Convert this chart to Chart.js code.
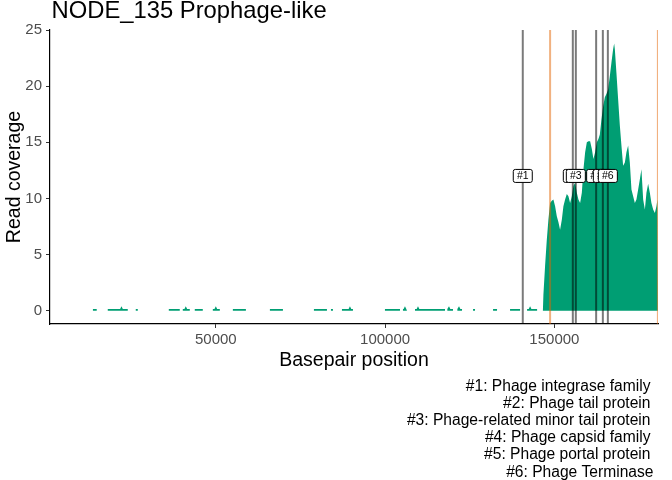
<!DOCTYPE html>
<html>
<head>
<meta charset="utf-8">
<script src="https://cdn.jsdelivr.net/npm/chart.js@4.4.1/dist/chart.umd.min.js"></script>
<style>
  html, body { margin: 0; padding: 0; background: #ffffff; }
  #c { display: block; }
</style>
</head>
<body>
<canvas id="c" width="672" height="480"></canvas>
<script>
// ---------------- DATA ----------------
const chartTitle = "NODE_135 Prophage-like";
const xTitle = "Basepair position";
const yTitle = "Read coverage";

// Read coverage along the contig (basepair position, coverage)
const position = [
  13639, 13640, 14820, 14821,
  18079, 18080, 21730, 22130, 22530, 23990, 23991,
  26349, 26350, 26950, 26951,
  36109, 36110, 39350, 39351,
  40239, 40240, 40730, 41130, 41530, 42310, 42311,
  43779, 43780, 46150, 46151,
  49109, 49110, 49600, 50000, 50400, 51180, 51181,
  55029, 55030, 58880, 58881,
  65969, 65970, 69820, 69821,
  78969, 78970, 82820, 82821,
  83999, 84000, 84590, 84591,
  87249, 87250, 89210, 89610, 90010, 90500, 90501,
  99949, 99950, 104390, 104391,
  105269, 105270, 105460, 105860, 106260, 106460, 106461,
  108819, 108820, 109310, 109710, 110110, 117690, 117691,
  118279, 118280, 118470, 118870, 119270, 120050, 120051,
  121239, 121240, 121430, 121830, 122230, 122720, 122721,
  125969, 125970, 126560, 126561,
  131879, 131880, 133060, 133061,
  136899, 136900, 139860, 139861,
  141929, 141930, 142420, 142820, 143220, 144890, 144891,
  146600, 146750, 147250, 147750, 148230, 148730, 149230, 149700, 150210, 150710,
  151180, 151680, 152190, 152660, 153160, 153670, 154140, 154640, 155140, 155620,
  156120, 156620, 157100, 157600, 158100, 158580, 159080, 159580, 160050, 160550,
  161060, 161530, 162030, 162530, 163000, 163420, 163890, 164400, 164900, 165370,
  165870, 166370, 166850, 167350, 167650, 167850, 168320, 168830, 169330, 169800,
  170300, 170810, 171280, 171780, 172280, 172760, 173260, 173760, 174230, 174740,
  175240, 175710, 176220, 176720, 177190, 177690, 178190, 178660, 179170, 179670,
  180140, 180440, 180570
];
const coverage = [
  0, 0.15, 0.15, 0,
  0, 0.15, 0.15, 0.4, 0.15, 0.15, 0,
  0, 0.15, 0.15, 0,
  0, 0.15, 0.15, 0,
  0, 0.15, 0.15, 0.4, 0.15, 0.15, 0,
  0, 0.15, 0.15, 0,
  0, 0.15, 0.15, 0.4, 0.15, 0.15, 0,
  0, 0.15, 0.15, 0,
  0, 0.15, 0.15, 0,
  0, 0.15, 0.15, 0,
  0, 0.15, 0.15, 0,
  0, 0.15, 0.15, 0.4, 0.15, 0.15, 0,
  0, 0.15, 0.15, 0,
  0, 0.15, 0.15, 0.4, 0.15, 0.15, 0,
  0, 0.15, 0.15, 0.4, 0.15, 0.15, 0,
  0, 0.15, 0.15, 0.4, 0.15, 0.15, 0,
  0, 0.15, 0.15, 0.4, 0.15, 0.15, 0,
  0, 0.15, 0.15, 0,
  0, 0.15, 0.15, 0,
  0, 0.15, 0.15, 0,
  0, 0.15, 0.15, 0.4, 0.15, 0.15, 0,
  0, 1.4, 4.0, 6.3, 8.1, 9.6, 9.8, 9.9, 9.3, 8.4,
  7.9, 7.2, 8.1, 9.3, 9.9, 10.4, 10.2, 9.6, 10.2, 11.1,
  11.4, 10.5, 9.9, 9.6, 10.5, 12.6, 14.1, 15.0, 15.1, 15.1,
  14.4, 13.5, 14.1, 15.0, 15.3, 15.7, 17.0, 18.2, 19.0, 19.3,
  19.7, 20.9, 22.1, 23.3, 23.8, 23.3, 21.2, 18.8, 16.5, 14.7,
  12.9, 13.2, 14.1, 14.7, 13.2, 10.8, 10.2, 9.6, 9.9, 10.8,
  11.7, 12.6, 9.9, 9.0, 10.5, 11.3, 10.5, 9.6, 9.0, 8.7,
  9.3, 9.9, 9.9
];

// Annotated phage genes
const geneLabels = ["#1", "#2", "#3", "#4", "#5", "#6"];
const geneNames = [
  "Phage integrase family",
  "Phage tail protein",
  "Phage-related minor tail protein",
  "Phage capsid family",
  "Phage portal protein",
  "Phage Terminase"
];
const genePositions = [140660, 155440, 156330, 162330, 164310, 165790];
const geneLabelLevel = 12;

// Prophage region boundaries
const regionBounds = [148730, 180570];

// Axis ranges and tick labels
const xRange = [1020, 180600];
const yRange = [-1.19, 25.0];
const xTicks = [50000, 100000, 150000];
const yTicks = [0, 5, 10, 15, 20, 25];

// ---------------- CHART ----------------
const FONT = "'Liberation Sans', Arial, sans-serif";
const GREEN = "#009E73";
const GRAY_LINE = "rgba(0,0,0,0.52)";
const ORANGE_LINE = "rgba(228,100,2,0.5)";

const datasets = [];
genePositions.forEach((p, i) => {
  datasets.push({
    label: geneLabels[i],
    data: [{x: p, y: yRange[0]}, {x: p, y: yRange[1]}],
    borderColor: GRAY_LINE, borderWidth: 2,
    pointRadius: 0, fill: false, order: 1
  });
});
regionBounds.forEach((p, i) => {
  datasets.push({
    label: "bound" + i,
    data: [{x: p, y: yRange[0]}, {x: p, y: yRange[1]}],
    borderColor: ORANGE_LINE, borderWidth: 2,
    pointRadius: 0, fill: false, order: 1
  });
});
datasets.push({
  label: "coverage",
  data: position.map((x, i) => ({x: x, y: coverage[i]})),
  borderWidth: 0, borderColor: GREEN,
  backgroundColor: GREEN,
  pointRadius: 0, fill: 'origin', tension: 0, order: 10
});

const annotatePlugin = {
  id: 'annotate',
  afterDatasetsDraw(chart) {
    const ctx = chart.ctx;
    const xs = chart.scales.x, ys = chart.scales.y;
    ctx.save();
    ctx.font = "10.5px " + FONT;
    ctx.textAlign = 'center';
    ctx.textBaseline = 'middle';
    genePositions.forEach((p, i) => {
      const cx = xs.getPixelForValue(p);
      const cy = ys.getPixelForValue(geneLabelLevel);
      const w = 19, h = 13, r = 2;
      const x0 = cx - w / 2, y0 = cy - h / 2;
      ctx.beginPath();
      ctx.moveTo(x0 + r, y0);
      ctx.lineTo(x0 + w - r, y0);
      ctx.arcTo(x0 + w, y0, x0 + w, y0 + r, r);
      ctx.lineTo(x0 + w, y0 + h - r);
      ctx.arcTo(x0 + w, y0 + h, x0 + w - r, y0 + h, r);
      ctx.lineTo(x0 + r, y0 + h);
      ctx.arcTo(x0, y0 + h, x0, y0 + h - r, r);
      ctx.lineTo(x0, y0 + r);
      ctx.arcTo(x0, y0, x0 + r, y0, r);
      ctx.closePath();
      ctx.fillStyle = '#ffffff';
      ctx.fill();
      ctx.lineWidth = 1;
      ctx.strokeStyle = '#000000';
      ctx.stroke();
      ctx.fillStyle = '#000000';
      ctx.fillText(geneLabels[i], cx, cy + 0.5);
    });
    ctx.restore();
  },
  afterDraw(chart) {
    const ctx = chart.ctx;
    const area = chart.chartArea;
    ctx.save();
    ctx.fillStyle = '#000000';
    // title
    ctx.font = "23.8px " + FONT;
    ctx.textAlign = 'left';
    ctx.textBaseline = 'alphabetic';
    ctx.fillText(chartTitle, area.left + 1.5, 17.5);
    // x title
    ctx.font = "19.5px " + FONT;
    ctx.textAlign = 'center';
    ctx.fillText(xTitle, (area.left + area.right) / 2, 366);
    // y title
    ctx.save();
    ctx.translate(19.5, (area.top + area.bottom) / 2);
    ctx.rotate(-Math.PI / 2);
    ctx.fillText(yTitle, 0, 0);
    ctx.restore();
    // caption
    ctx.font = "15.6px " + FONT;
    ctx.textAlign = 'right';
    const baseY = 390.5, step = 17.2;
    geneNames.forEach((n, i) => {
      const right = (i === geneNames.length - 1) ? 653.5 : 650.5;
      ctx.fillText(geneLabels[i] + ": " + n, right, baseY + i * step);
    });
    ctx.restore();
  }
};

new Chart(document.getElementById('c'), {
  type: 'line',
  data: { datasets: datasets },
  options: {
    responsive: false,
    animation: false,
    devicePixelRatio: 1,
    layout: { padding: { top: 30, right: 14, bottom: 0, left: 0 } },
    plugins: { legend: { display: false }, tooltip: { enabled: false }, title: { display: false } },
    elements: { line: { tension: 0 } },
    scales: {
      x: {
        type: 'linear',
        min: xRange[0], max: xRange[1],
        afterBuildTicks: (s) => { s.ticks = xTicks.map(v => ({value: v})); },
        afterFit: (s) => { s.height = 156; s.paddingLeft = 0; s.paddingRight = 0; },
        grid: { drawOnChartArea: false, drawTicks: true, tickLength: 4, tickColor: '#333333', tickWidth: 1 },
        border: { display: true, color: '#000000', width: 1.2 },
        ticks: {
          autoSkip: false, maxRotation: 0, minRotation: 0,
          color: '#4D4D4D', padding: 3,
          font: { family: FONT, size: 15 },
          callback: (v) => String(v)
        }
      },
      y: {
        type: 'linear',
        min: yRange[0], max: yRange[1],
        afterBuildTicks: (s) => { s.ticks = yTicks.map(v => ({value: v})); },
        afterFit: (s) => { s.width = 50; },
        grid: { drawOnChartArea: false, drawTicks: true, tickLength: 4, tickColor: '#333333', tickWidth: 1 },
        border: { display: true, color: '#000000', width: 1.2 },
        ticks: {
          color: '#4D4D4D', padding: 4,
          font: { family: FONT, size: 15 },
          callback: (v) => String(v)
        }
      }
    }
  },
  plugins: [annotatePlugin]
});
</script>
</body>
</html>
